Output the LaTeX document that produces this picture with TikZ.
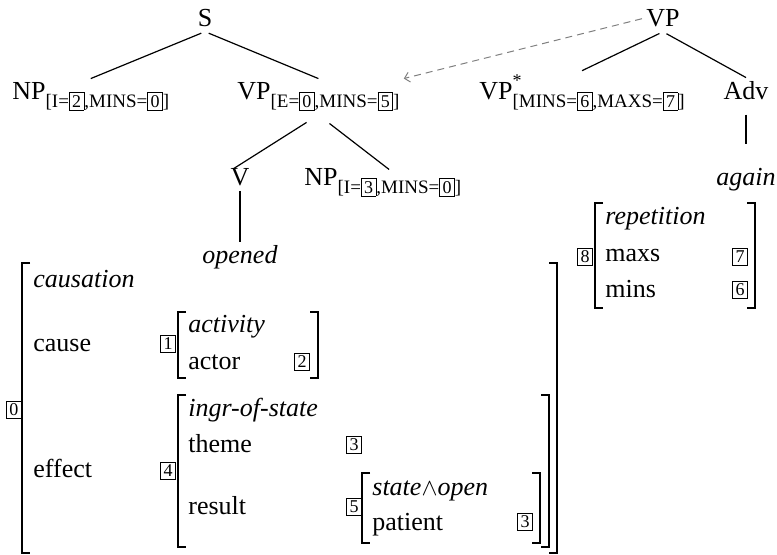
\documentclass[tikz,border=0pt]{standalone}
\usepackage{fontspec}
\setmainfont{Liberation Serif}
\usetikzlibrary{arrows.meta}

% boxed index and feature subscript
\newcommand{\tagbox}[1]{{\setlength{\fboxsep}{1.2pt}\setlength{\fboxrule}{0.4pt}\fbox{\fontsize{9}{9}\selectfont #1}}}
\newcommand{\feat}[1]{\raisebox{-0.6ex}{\fontsize{9.5}{9.5}\selectfont[#1]}}

\begin{document}
\begin{tikzpicture}[x=0.5pt,y=-0.5pt,
  every node/.style={font=\fontsize{13}{15}\selectfont,inner sep=2pt},
  branch/.style={line width=0.6pt},
  brk/.style={line width=1.1pt,line join=miter},
  tag/.style={inner sep=0pt},
  avm/.style={anchor=base west,inner sep=0pt}]

\useasboundingbox (0,0) rectangle (777,555);

% elementary tree
\node[anchor=base] (s) at (205,27) {S};
\node[anchor=base west] (np1) at (8,100) {NP\feat{I=\tagbox{2},MINS=\tagbox{0}}};
\node[anchor=base west] (vp1) at (233,100) {VP\feat{E=\tagbox{0},MINS=\tagbox{5}}};
\node[anchor=base] (v) at (240,186) {V};
\node[anchor=base west] (np2) at (300,186) {NP\feat{I=\tagbox{3},MINS=\tagbox{0}}};
\node[anchor=base] (opened) at (240,264) {\textit{opened}};

% auxiliary tree
\node[anchor=base] (vp2) at (663,27) {VP};
\node[anchor=base west] (vp3) at (475,100) {VP\rlap{\raisebox{1.1ex}{\fontsize{9}{9}\selectfont *}}\feat{MINS=\tagbox{6},MAXS=\tagbox{7}}};
\node[anchor=base] (adv) at (746,100) {Adv};
\node[anchor=base] (again) at (746,186) {\textit{again}};

% branches
\draw[branch,shorten <=2pt] (s.south) -- (np1.north);
\draw[branch,shorten <=2pt] (s.south) -- (vp1.north);
\draw[branch,shorten <=7pt,shorten >=-4pt] (vp1.south) -- (v.north);
\draw[branch,shorten <=7pt,shorten >=-4pt] (vp1.south) -- (np2.north);
\draw[branch] (v.south) -- (opened.north);
\draw[branch,shorten <=2pt] (vp2.south) -- (vp3.north);
\draw[branch,shorten <=2pt] (vp2.south) -- (adv.north);
\draw[branch,shorten <=5pt,shorten >=10pt] (adv.south) -- (again.north);

% adjunction
\draw[gray,line width=0.5pt,dash pattern=on 3.5pt off 2.5pt,-{Straight Barb[length=2.5pt,width=5pt]}] (vp2.west) -- (vp1.north east);

% brackets of the matrices
\foreach \xl/\xr/\yt/\yb in {22/557/263/553, 178/318/312/378, 178/549/395/547, 362/540/473/543, 595/755/203/308} {
  \draw[brk] (\xl+8,\yt) -- (\xl,\yt) -- (\xl,\yb) -- (\xl+8,\yb);
  \draw[brk] (\xr-8,\yt) -- (\xr,\yt) -- (\xr,\yb) -- (\xr-8,\yb);
}

% indices
\foreach \n/\x/\y/\d in {t0/14/410/0, t1/168/344/1, t2/302/362/2, t4/168/471/4, t3a/354/445/3, t5/354/507/5, t3b/525/522/3, t8/585/257/8, t7/740/257/7, t6/740/290/6}
  \node[tag] (\n) at (\x,\y) {\tagbox{\d}};

% features
\node[avm] (causation) at (33,288) {\textit{causation}};
\node[avm] (cause) at (33,352) {cause};
\node[avm] (effect) at (33,478) {effect};
\node[avm] (activity) at (188,333) {\textit{activity}};
\node[avm] (actor) at (188,370) {actor};
\node[avm] (ingr) at (188,417) {\textit{ingr-of-state}};
\node[avm] (theme) at (188,453) {theme};
\node[avm] (result) at (188,515) {result};
\node[avm] (state) at (372,496) {\textit{state}$\wedge$\textit{open}};
\node[avm] (patient) at (372,531) {patient};
\node[avm] (repetition) at (605,225) {\textit{repetition}};
\node[avm] (maxs) at (605,262) {maxs};
\node[avm] (mins) at (605,298) {mins};
\end{tikzpicture}
\end{document}
